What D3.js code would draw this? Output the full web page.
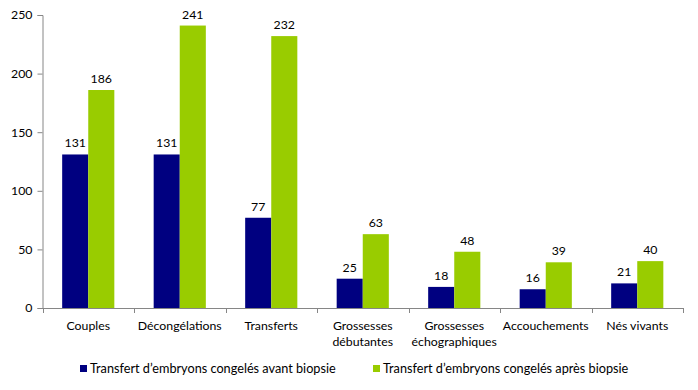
<!DOCTYPE html>
<html><head><meta charset="utf-8">
<script src="https://cdn.jsdelivr.net/npm/d3@7"></script>
<style>body{margin:0;background:#fff}svg{display:block}text{font-family:Lato,"Open Sans",sans-serif;fill:#000}</style>
</head><body>
<svg id="c" width="698" height="390"></svg>
<script>
const categories = [["Couples"],["Décongélations"],["Transferts"],["Grossesses","débutantes"],["Grossesses","échographiques"],["Accouchements"],["Nés vivants"]];
const seriesNames = ["Transfert d\u2019embryons congelés avant biopsie","Transfert d\u2019embryons congelés après biopsie"];
const avant = [131,131,77,25,18,16,21];
const apres = [186,241,232,63,48,39,40];
const yTicks = [0,50,100,150,200,250];
const colors = ["#000080","#99CC00"];

const svg = d3.select("#c");
const L=42.5, R=683, T=15, B=308;
const keys = categories.map(c=>c.join(" "));
const x0 = d3.scaleBand().domain(keys).range([L,R]).paddingInner(0.43).paddingOuter(0.215);
const x1 = d3.scaleBand().domain([0,1]).range([0,x0.bandwidth()]);
const y = d3.scaleLinear().domain([0,250]).range([B,T]);
const series=[avant,apres];

// bars
series.forEach((vals,si)=>{
  svg.append("g").selectAll("rect").data(vals).join("rect")
    .attr("x",(d,i)=>x0(keys[i])+x1(si))
    .attr("y",d=>y(d)).attr("width",x1.bandwidth()).attr("height",d=>B-y(d))
    .attr("fill",colors[si]);
  svg.append("g").selectAll("text").data(vals).join("text")
    .attr("x",(d,i)=>x0(keys[i])+x1(si)+x1.bandwidth()/2)
    .attr("y",d=>y(d)-7).attr("text-anchor","middle").attr("font-size","12.3px").text(d=>d);
});

// y axis
const ya = svg.append("g").attr("transform",`translate(${L},0)`)
  .call(d3.axisLeft(y).tickValues(yTicks).tickSize(5).tickPadding(5));
ya.select(".domain").attr("stroke","#868686");
ya.selectAll(".tick line").attr("stroke","#868686");
ya.selectAll("text").attr("font-size","12.3px").attr("font-family","Lato,sans-serif").attr("fill","#000");

// x axis
const xb = svg.append("g");
xb.append("line").attr("x1",L).attr("x2",R).attr("y1",B+0.5).attr("y2",B+0.5).attr("stroke","#868686");
const bounds = d3.range(keys.length+1).map(i=>L+ i*(R-L)/keys.length);
xb.selectAll("line.t").data(bounds).join("line").attr("class","t")
  .attr("x1",d=>Math.round(d)+0.5).attr("x2",d=>Math.round(d)+0.5).attr("y1",B).attr("y2",B+5).attr("stroke","#868686");
categories.forEach((c,i)=>{
  const cx = x0(keys[i])+x0.bandwidth()/2;
  const t = svg.append("text").attr("text-anchor","middle").attr("font-size","12.3px");
  c.forEach((line,j)=>t.append("tspan").attr("x",cx).attr("y",330+j*15.5).text(line));
});

// legend
const legX=[80,373];
seriesNames.forEach((n,i)=>{
  svg.append("rect").attr("x",legX[i]).attr("y",365).attr("width",7).attr("height",7).attr("fill",colors[i]);
  svg.append("text").attr("x",legX[i]+10).attr("y",373).attr("font-size","12.7px").text(n);
});
</script>
</body></html>
